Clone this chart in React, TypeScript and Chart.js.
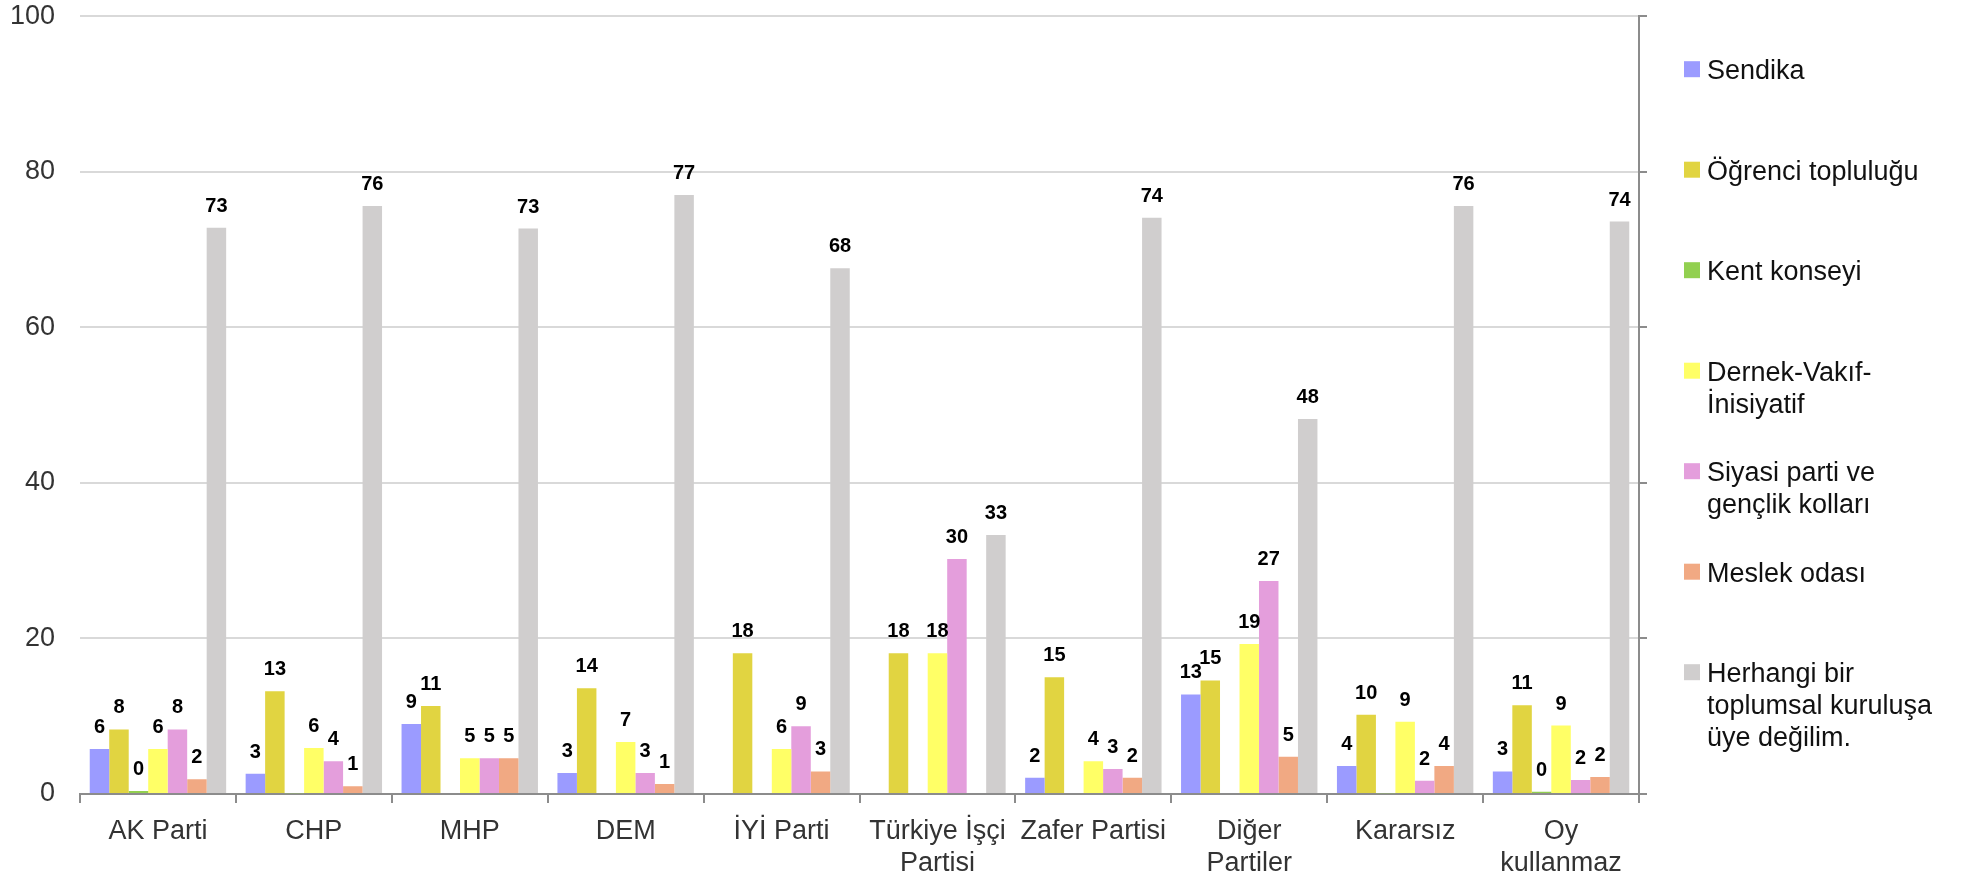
import React, { useEffect, useRef } from "react";
import { Chart, registerables } from "chart.js";

Chart.register(...registerables);

const categories: (string | string[])[] = [
  "AK Parti",
  "CHP",
  "MHP",
  "DEM",
  "İYİ Parti",
  ["Türkiye İşçi", "Partisi"],
  "Zafer Partisi",
  ["Diğer", "Partiler"],
  "Kararsız",
  ["Oy", "kullanmaz"],
];

const sendika = [5.8, 2.6, 9.0, 2.7, 0, 0, 2.1, 12.8, 3.6, 2.9];
const ogrenciToplulugu = [8.3, 13.2, 11.3, 13.6, 18.1, 18.1, 15.0, 14.6, 10.2, 11.4];
const kentKonseyi = [0.4, 0.1, 0, 0, 0, 0, 0, 0, 0.1, 0.3];
const dernekVakif = [5.8, 5.9, 4.6, 6.7, 5.8, 18.1, 4.2, 19.3, 9.3, 8.8];
const siyasiParti = [8.3, 4.2, 4.6, 2.7, 8.7, 30.2, 3.2, 27.4, 1.7, 1.8];
const meslekOdasi = [1.9, 1.0, 4.6, 1.3, 2.9, 0, 2.1, 4.8, 3.6, 2.2];
const uyeDegilim = [72.8, 75.6, 72.7, 77.0, 67.6, 33.3, 74.1, 48.2, 75.6, 73.6];

const yTicks = [0, 20, 40, 60, 80, 100];

const legendLabels: string[][] = [
  ["Sendika"],
  ["Öğrenci topluluğu"],
  ["Kent konseyi"],
  ["Dernek-Vakıf-", "İnisiyatif"],
  ["Siyasi parti ve", "gençlik kolları"],
  ["Meslek odası"],
  ["Herhangi bir", "toplumsal kuruluşa", "üye değilim."],
];

const seriesValues = [
  sendika,
  ogrenciToplulugu,
  kentKonseyi,
  dernekVakif,
  siyasiParti,
  meslekOdasi,
  uyeDegilim,
];

const seriesColors = [
  "#9B9BFF",
  "#E1D441",
  "#92D050",
  "#FFFF66",
  "#E49EDC",
  "#F1A983",
  "#D0CECE",
];

const FONT = "'Liberation Sans', Arial, sans-serif";

const valueLabelPlugin = {
  id: "valueLabels",
  afterDatasetsDraw(chart: any) {
    const ctx = chart.ctx;
    ctx.save();
    ctx.font = `bold 20px ${FONT}`;
    ctx.fillStyle = "#000";
    ctx.textAlign = "center";
    ctx.textBaseline = "alphabetic";
    chart.data.datasets.forEach((ds: any, i: number) => {
      const meta = chart.getDatasetMeta(i);
      meta.data.forEach((bar: any, j: number) => {
        const v = ds.data[j];
        if (v == null || v < 0.25) return;
        ctx.fillText(String(Math.round(v)), bar.x, bar.y - 16);
      });
    });
    ctx.restore();
  },
};

const sideLegendPlugin = {
  id: "sideLegend",
  afterDraw(chart: any) {
    const ctx = chart.ctx;
    const area = chart.chartArea;
    const boxX = area.right + 45;
    const textX = boxX + 23;
    const firstBaseline = area.top + 63;
    const step = 100.5;
    const lineH = 32;
    ctx.save();
    ctx.font = `27px ${FONT}`;
    ctx.textAlign = "left";
    ctx.textBaseline = "alphabetic";
    legendLabels.forEach((lines, i) => {
      const base = firstBaseline + i * step;
      ctx.fillStyle = seriesColors[i];
      ctx.fillRect(boxX, base - 18, 16, 16);
      ctx.fillStyle = "#111";
      lines.forEach((line, k) => {
        ctx.fillText(line, textX, base + k * lineH);
      });
    });
    ctx.restore();
  },
};

export default function App() {
  const canvasRef = useRef<HTMLCanvasElement | null>(null);

  useEffect(() => {
    const canvas = canvasRef.current;
    if (!canvas) return;
    const chart = new Chart(canvas, {
      type: "bar",
      data: {
        labels: categories as any,
        datasets: seriesValues.map((vals, i) => ({
          label: legendLabels[i].join(" "),
          data: vals,
          backgroundColor: seriesColors[i],
          borderWidth: 0,
          barPercentage: 1,
          categoryPercentage: 0.875,
          yAxisID: "y",
        })),
      },
      options: {
        responsive: false,
        animation: false,
        devicePixelRatio: 1,
        layout: { padding: { top: 0, right: 321, bottom: 0, left: 0 } },
        plugins: {
          legend: { display: false },
          tooltip: { enabled: false },
          title: { display: false },
        },
        scales: {
          x: {
            type: "category",
            offset: true,
            grid: {
              offset: true,
              drawOnChartArea: false,
              drawTicks: true,
              tickLength: 9,
              color: "#8c8c8c",
              lineWidth: 2,
            },
            border: { display: true, color: "#8c8c8c", width: 2 },
            ticks: {
              font: { family: FONT, size: 27 },
              color: "#333",
              padding: 12,
              maxRotation: 0,
              autoSkip: false,
            },
            afterFit(scale: any) {
              scale.height = 86;
            },
          },
          y: {
            position: "left",
            min: 0,
            max: 100,
            grid: {
              color: "#d9d9d9",
              lineWidth: 2,
              drawTicks: true,
              tickLength: 25,
              tickColor: "rgba(0,0,0,0)",
            },
            border: { display: false },
            ticks: {
              stepSize: 20,
              padding: 0,
              font: { family: FONT, size: 27 },
              color: "#333",
              callback: (v: any) => (yTicks.includes(Number(v)) ? String(v) : ""),
            },
            afterFit(scale: any) {
              scale.width = 80;
            },
          },
          y2: {
            position: "right",
            min: 0,
            max: 100,
            grid: {
              drawOnChartArea: false,
              drawTicks: true,
              tickLength: 8,
              color: "#8c8c8c",
              lineWidth: 2,
            },
            border: { display: true, color: "#8c8c8c", width: 2 },
            ticks: { stepSize: 20, display: false, padding: 0 },
            afterFit(scale: any) {
              scale.width = 10;
            },
          },
        },
      } as any,
      plugins: [valueLabelPlugin, sideLegendPlugin],
    });
    return () => chart.destroy();
  }, []);

  return (
    <div style={{ position: "fixed", left: 0, top: 0, width: 1970, height: 880, background: "#fff" }}>
      <canvas ref={canvasRef} width={1970} height={880} style={{ width: 1970, height: 880, display: "block" }} />
    </div>
  );
}
